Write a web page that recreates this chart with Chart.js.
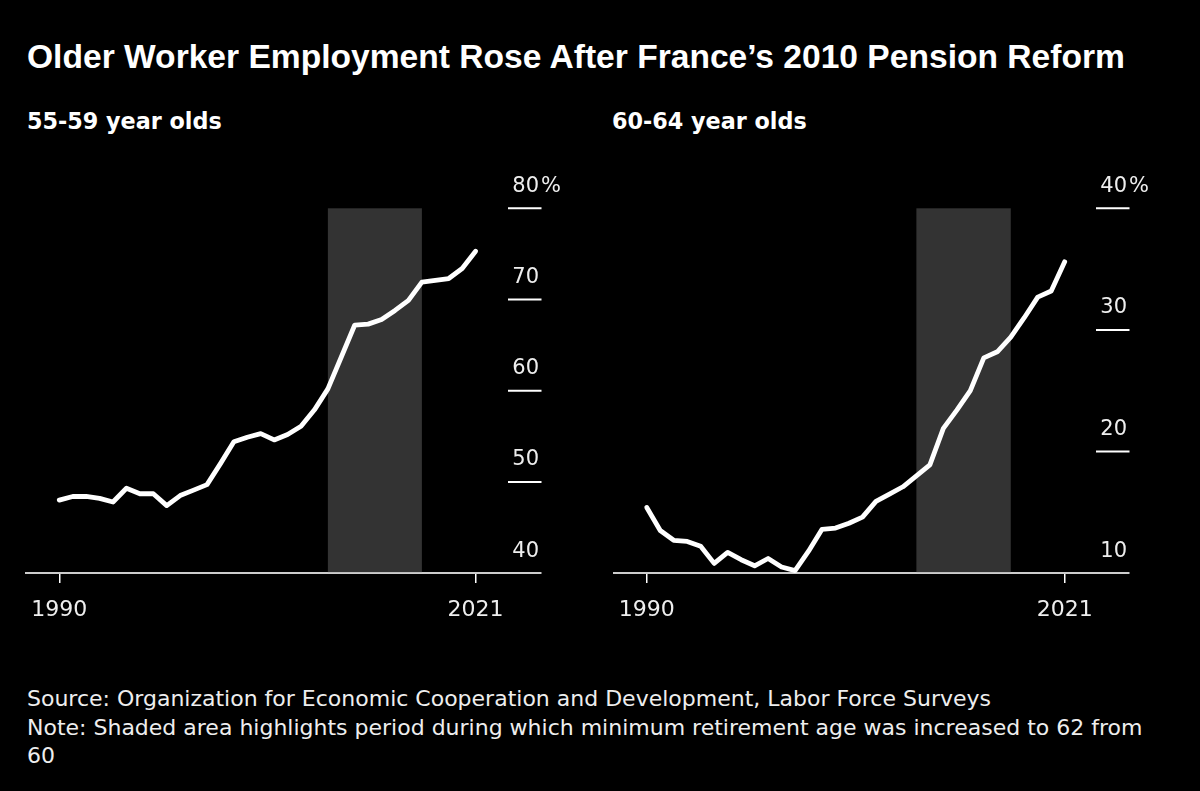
<!DOCTYPE html>
<html>
<head>
<meta charset="utf-8">
<script src="https://cdn.jsdelivr.net/npm/chart.js@4.4.1/dist/chart.umd.min.js"></script>
<style>
  html, body { margin: 0; padding: 0; background: #000; }
  #wrap { position: relative; width: 1200px; height: 791px; background: #000; overflow: hidden; }
  .title { position: absolute; left: 27px; top: 40px; font-family: "Liberation Sans", Arial, sans-serif; font-weight: 700; font-size: 33.6px; line-height: 33.6px; color: #fff; white-space: nowrap; }
  .sub { position: absolute; top: 110px; font-family: "DejaVu Sans", sans-serif; font-weight: 700; font-size: 22.3px; line-height: 22.3px; color: #fff; white-space: nowrap; }
  .note { position: absolute; left: 27px; top: 685px; font-family: "DejaVu Sans", sans-serif; font-size: 22px; line-height: 28.5px; color: #eee; white-space: nowrap; }
  canvas { position: absolute; }
  .cbox { position: absolute; top: 150px; width: 590px; height: 494.4px; }
</style>
</head>
<body>
<div id="wrap">
  <div class="title">Older Worker Employment Rose After France’s 2010 Pension Reform</div>
  <div class="sub" style="left:27px;">55-59 year olds</div>
  <div class="sub" style="left:612px;">60-64 year olds</div>
  <div class="cbox" style="left:0px;"><canvas id="c1"></canvas></div>
  <div class="cbox" style="left:588px;"><canvas id="c2"></canvas></div>
  <div class="note">Source: Organization for Economic Cooperation and Development, Labor Force Surveys<br>Note: Shaded area highlights period during which minimum retirement age was increased to 62 from<br>60</div>
</div>
<script>
// ---- Data ----
const years = [1990,1991,1992,1993,1994,1995,1996,1997,1998,1999,2000,2001,2002,2003,2004,2005,2006,2007,2008,2009,2010,2011,2012,2013,2014,2015,2016,2017,2018,2019,2020,2021];
const emp5559 = [48.0,48.4,48.4,48.2,47.8,49.3,48.7,48.7,47.4,48.5,49.1,49.7,52.0,54.4,54.9,55.3,54.6,55.2,56.1,57.9,60.2,63.7,67.2,67.3,67.8,68.8,69.9,71.9,72.1,72.3,73.4,75.3];
const emp6064 = [15.4,13.5,12.7,12.6,12.2,10.8,11.7,11.1,10.6,11.2,10.5,10.2,11.8,13.6,13.7,14.1,14.6,15.9,16.5,17.1,18.0,18.9,21.9,23.4,25.0,27.7,28.2,29.4,31.0,32.7,33.2,35.6];
const xTickYears = [1990, 2021];
const ticks5559 = [40, 50, 60, 70, 80];
const ticks6064 = [10, 20, 30, 40];
const shadeStart = 2010;
const shadeEnd = 2017;

const TICK_FONT = '21px "DejaVu Sans", sans-serif';

const overlayPlugin = {
  id: 'overlay',
  beforeDatasetsDraw(chart) {
    const { ctx, chartArea, scales } = chart;
    const x0 = scales.x.getPixelForValue(shadeStart);
    const x1 = scales.x.getPixelForValue(shadeEnd);
    ctx.save();
    ctx.fillStyle = '#333333';
    ctx.fillRect(x0, chartArea.top, x1 - x0, chartArea.bottom - chartArea.top - 1);
    ctx.restore();
  },
  afterDraw(chart) {
    const { ctx, chartArea, scales } = chart;
    const tickVals = chart.options.plugins.overlay.ticks;
    const right = chartArea.right;
    ctx.save();
    ctx.font = TICK_FONT;
    ctx.textBaseline = 'alphabetic';
    tickVals.forEach((v, i) => {
      const y = scales.y.getPixelForValue(v);
      if (i > 0) {
        ctx.strokeStyle = '#ffffff';
        ctx.lineWidth = 2;
        ctx.beginPath();
        ctx.moveTo(right - 33, y);
        ctx.lineTo(right + 0.5, y);
        ctx.stroke();
      }
      ctx.fillStyle = '#eeeeee';
      ctx.textAlign = 'right';
      ctx.fillText(String(v), right - 2, y - 16.6);
      if (i === tickVals.length - 1) {
        ctx.textAlign = 'left';
        ctx.fillText('%', right, y - 16.6);
      }
    });
    ctx.restore();
  }
};

function makeChart(id, values, yMin, yMax, tickVals, xMin, xMax) {
  return new Chart(document.getElementById(id), {
    type: 'line',
    data: {
      datasets: [{
        data: years.map((yr, i) => ({ x: yr, y: values[i] })),
        borderColor: '#ffffff',
        borderWidth: 4.8,
        pointRadius: 0,
        tension: 0,
        borderCapStyle: 'round',
        borderJoinStyle: 'round',
        clip: false
      }]
    },
    options: {
      responsive: true,
      maintainAspectRatio: false,
      animation: false,
      layout: { padding: { left: 26, right: 49, top: 58.3, bottom: 6.9 } },
      plugins: {
        legend: { display: false },
        tooltip: { enabled: false },
        overlay: { ticks: tickVals }
      },
      scales: {
        x: {
          type: 'linear',
          min: xMin,
          max: xMax,
          afterBuildTicks(scale) { scale.ticks = xTickYears.map(v => ({ value: v })); },
          ticks: {
            color: '#eeeeee',
            font: { family: '"DejaVu Sans", sans-serif', size: 22 },
            padding: 14,
            maxRotation: 0,
            autoSkip: false,
            callback: (v) => String(v)
          },
          grid: { drawOnChartArea: false, drawTicks: true, tickLength: 10, color: '#ffffff', lineWidth: 1.5 },
          border: { display: true, color: '#cccccc', width: 2 }
        },
        y: {
          display: false,
          min: yMin,
          max: yMax
        }
      }
    },
    plugins: [overlayPlugin]
  });
}

makeChart('c1', emp5559, 40, 80, ticks5559, 1987.52, 2025.87);
makeChart('c2', emp6064, 10, 40, ticks6064, 1987.57, 2025.77);
</script>
</body>
</html>
